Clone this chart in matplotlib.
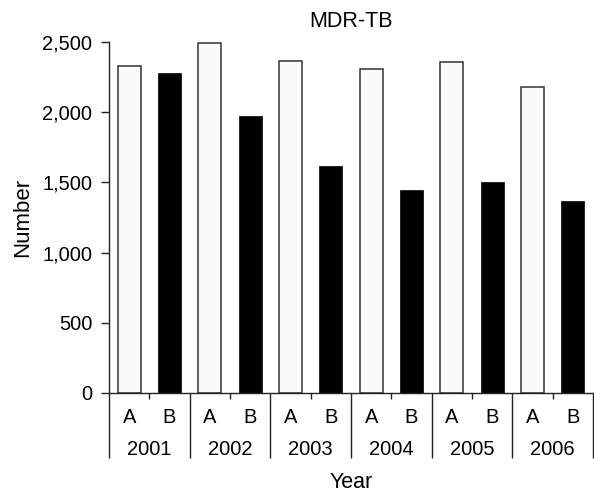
import matplotlib
matplotlib.use("Agg")
import matplotlib.pyplot as plt
import matplotlib.transforms as mtransforms
from matplotlib.ticker import FuncFormatter
import numpy as np

# ------------------------------------------------------------
# Data
# ------------------------------------------------------------
years = ["2001", "2002", "2003", "2004", "2005", "2006"]
groups = ["A", "B"]
values_a = [2330, 2495, 2365, 2305, 2355, 2180]
values_b = [2280, 1975, 1620, 1445, 1505, 1370]
y_ticks = [0, 500, 1000, 1500, 2000, 2500]

plt.rcParams["font.family"] = ["Liberation Sans", "DejaVu Sans"]

# ------------------------------------------------------------
# Figure setup
# ------------------------------------------------------------
fig = plt.figure(figsize=(5.94, 4.92), dpi=100)
ax = fig.add_axes([109 / 594, 1 - 393 / 492, 484 / 594, 351 / 492])

n = len(years)
pos_a = np.arange(n) * 2
pos_b = pos_a + 1

ax.bar(pos_a, values_a, width=0.57, color="#fbfbfb", edgecolor="#333333", linewidth=1.1)
ax.bar(pos_b, values_b, width=0.57, color="black", edgecolor="black", linewidth=0.5)

ax.set_xlim(-0.5, 2 * n - 0.5)
ax.set_ylim(0, 2500)
ax.set_yticks(y_ticks)
ax.yaxis.set_major_formatter(FuncFormatter(lambda v, p: f"{int(v):,}"))

# spines
for side in ["top", "right"]:
    ax.spines[side].set_visible(False)
for side in ["left", "bottom"]:
    ax.spines[side].set_linewidth(1.0)
    ax.spines[side].set_color("#222222")

ax.tick_params(axis="y", length=6, width=1.0, color="#222222", pad=6, labelsize=14.5)

# x axis: small ticks between A and B, labels drawn as text
ax.set_xticks(pos_a + 0.5)
ax.tick_params(axis="x", length=4, width=1.0, color="#222222", labelbottom=False)

trans = mtransforms.blended_transform_factory(ax.transData, ax.transAxes)
for i, yr in enumerate(years):
    ax.text(pos_a[i], -0.071, groups[0], transform=trans, ha="center", va="center", fontsize=14.5)
    ax.text(pos_b[i], -0.071, groups[1], transform=trans, ha="center", va="center", fontsize=14.5)
    ax.text(pos_a[i] + 0.5, -0.162, yr, transform=trans, ha="center", va="center", fontsize=14.5)

# group separators
sep = np.arange(n + 1) * 2 - 0.5
ax.vlines(sep, -0.185, 0, transform=trans, colors="#222222", linewidth=1.0, clip_on=False)

ax.set_xlabel("Year", fontsize=15.5, va="center")
ax.xaxis.set_label_coords(0.5, -0.256)
ax.set_ylabel("Number", fontsize=16, va="center")
ax.yaxis.set_label_coords(-0.178, 0.5)

ax.set_title("MDR-TB", fontsize=15.5, y=1.057, va="center", pad=0)

fig.savefig("out.png", dpi=100)
